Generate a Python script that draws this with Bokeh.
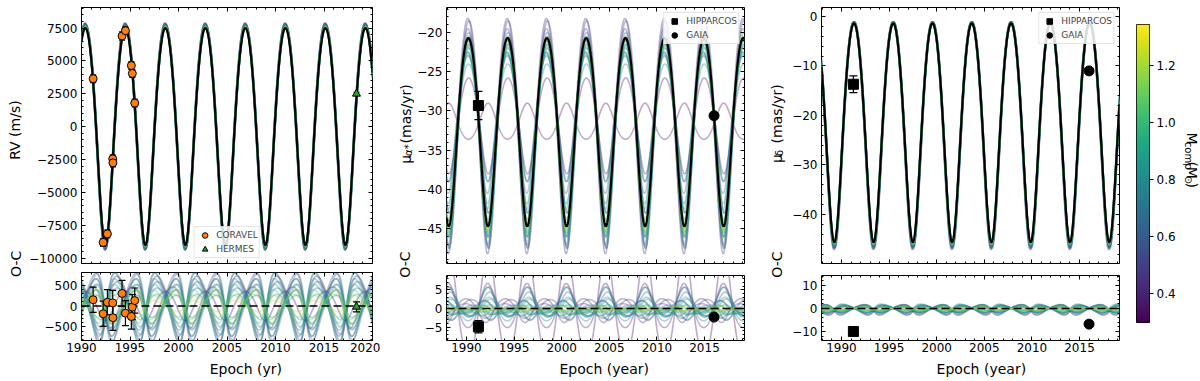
import numpy as np
from bokeh.plotting import figure
from bokeh.layouts import row, column
from bokeh.models import (Range1d, LinearAxis, SingleIntervalTicker, FixedTicker,
                          CustomJSTickFormatter, Label, Legend, LegendItem,
                          LinearColorMapper, ColumnDataSource)
from bokeh.palettes import Viridis256
from bokeh.embed import file_html
from bokeh.resources import INLINE

FONT = "DejaVu Sans"

# ---------------- orbit parameters ----------------
period_yr = 4.125
eccentricity = 0.1
apoastron_epoch = 1994.52

rv_center, rv_semi_amp = -750.0, 8250.0
pma_center, pma_semi_amp, pma_epoch_shift = -32.7, 12.0, -0.2
pmd_center, pmd_semi_amp, pmd_epoch_shift = -23.5, 22.1, 0.915

# ---------------- sampled companion models ----------------
sample_mass = [0.33, 0.36, 0.42, 0.47, 0.52, 0.56, 0.60, 0.63, 0.66, 0.69, 0.72, 0.75,
               0.78, 0.81, 0.84, 0.87, 0.90, 0.94, 0.98, 1.03, 1.08, 1.13, 1.18, 1.23]
sample_dt = [0.00, 0.03, -0.05, 0.06, -0.04, 0.05, -0.06, 0.04, -0.03, 0.06, -0.05, 0.02,
             0.05, -0.04, 0.03, -0.06, 0.04, -0.02, 0.03, -0.03, 0.02, -0.02, 0.03, -0.01]
sample_rv_amp = [8600, 8550, 8650, 8500, 8600, 8450, 8550, 8400, 8500, 8350, 8450, 8300,
                 8450, 8400, 8350, 8500, 8300, 8400, 8350, 8300, 8400, 8280, 8350, 8270]
sample_pma_amp = [-2.3, 6.1, 15.0, 14.5, 13.8, 11.0, 9.0, 13.0, 8.0, 10.5, 12.5, 7.5,
                  11.5, 9.5, 13.5, 10.0, 12.0, 11.0, 12.8, 12.2, 11.5, 12.4, 11.8, 12.3]
sample_pma_center = [-31.3, -31.9, -33.2, -33.0, -33.3, -32.0, -31.5, -33.0, -31.0, -32.5, -33.5, -31.5,
                     -33.0, -32.3, -34.0, -32.5, -33.5, -32.8, -33.4, -33.0, -32.5, -33.0, -32.6, -32.9]
sample_pmd_amp = [22.8, 22.6, 23.0, 22.9, 22.7, 22.5, 22.9, 22.4, 22.6, 22.8, 22.3, 22.7,
                  22.5, 22.4, 22.6, 22.3, 22.5, 22.2, 22.4, 22.3, 22.2, 22.4, 22.3, 22.2]
sample_pmd_center = [-23.9, -23.8, -24.1, -24.0, -23.9, -23.7, -24.0, -23.7, -23.8, -23.9, -23.6, -23.8,
                     -23.7, -23.7, -23.8, -23.6, -23.7, -23.6, -23.7, -23.6, -23.6, -23.7, -23.6, -23.6]

# ---------------- observations ----------------
coravel_epoch = [1991.20, 1992.23, 1992.67, 1993.22, 1993.24, 1994.18, 1994.53, 1995.14, 1995.24, 1995.49]
coravel_rv = [3650, -8800, -8150, -2450, -2750, 6900, 7300, 4650, 4050, 1800]
coravel_err = [300, 300, 300, 300, 300, 310, 300, 300, 300, 300]
coravel_oc = [150, -185, 90, 75, -280, 300, -170, -250, -25, 130]

hermes_epoch = [2018.35]
hermes_rv = [2500]
hermes_err = [120]
hermes_oc = [-20]

hip_epoch = [1991.25]
gaia_epoch = [2016.0]
pma_hip, pma_hip_err, pma_hip_oc, pma_hip_oc_err = [-29.3], [1.8], [-4.9], [1.65]
pma_gaia, pma_gaia_err, pma_gaia_oc, pma_gaia_oc_err = [-30.6], [0.3], [-2.3], [0.3]
pmd_hip, pmd_hip_err, pmd_hip_oc, pmd_hip_oc_err = [-13.7], [1.7], [-10.0], [0.9]
pmd_gaia, pmd_gaia_err, pmd_gaia_oc, pmd_gaia_oc_err = [-11.0], [0.2], [-6.8], [0.2]

cbar_low, cbar_high = 0.30, 1.344
cbar_ticks = [0.4, 0.6, 0.8, 1.0, 1.2]

PAGE_H = 381


def mass_color(m):
    i = int(round((m - cbar_low) / (cbar_high - cbar_low) * 255))
    return Viridis256[max(0, min(255, i))]


def true_anomaly(t):
    t = np.asarray(t, float)
    M = 2 * np.pi * (t - (apoastron_epoch - period_yr / 2)) / period_yr
    E = M.copy()
    for _ in range(12):
        E = E - (E - eccentricity * np.sin(E) - M) / (1 - eccentricity * np.cos(E))
    return 2 * np.arctan2(np.sqrt(1 + eccentricity) * np.sin(E / 2),
                          np.sqrt(1 - eccentricity) * np.cos(E / 2))


def orbit(t, center, amp, shift=0.0):
    return center - amp * np.cos(true_anomaly(np.asarray(t) - shift))


minus_fmt = CustomJSTickFormatter(code="""
if (Math.abs(tick) < 1e-9) { return '0'; }
const s = String(Math.round(Math.abs(tick) * 1000) / 1000);
return tick < 0 ? '\u2212' + s : s;
""")
blank_fmt = CustomJSTickFormatter(code="return '';")


def base_fig(w, h, xr, yr, bl, br, bt, bb):
    p = figure(width=w, height=h, x_range=Range1d(*xr), y_range=Range1d(*yr),
               x_axis_type=None, y_axis_type=None, output_backend="svg",
               toolbar_location=None, min_border_left=bl, min_border_right=br,
               min_border_top=bt, min_border_bottom=bb)
    p.outline_line_color = "black"
    p.outline_line_width = 1
    p.outline_line_alpha = 1.0
    p.background_fill_color = "white"
    p.border_fill_color = "white"
    return p


def strip(w, h):
    s = figure(width=w, height=h, x_range=Range1d(0, w), y_range=Range1d(0, h),
               x_axis_type=None, y_axis_type=None, output_backend="svg",
               toolbar_location=None, min_border=0)
    s.outline_line_color = None
    s.background_fill_color = "white"
    s.border_fill_color = "white"
    return s


def add_axes(p, xint, yint, xlabels=True):
    for loc in ("below", "above", "left", "right"):
        horiz = loc in ("below", "above")
        ax = LinearAxis(ticker=SingleIntervalTicker(interval=xint if horiz else yint, num_minor_ticks=5))
        ax.axis_line_color = None
        ax.major_tick_in = 4
        ax.major_tick_out = 0
        ax.minor_tick_in = 2
        ax.minor_tick_out = 0
        ax.major_tick_line_color = "black"
        ax.minor_tick_line_color = "black"
        show = (loc == "below" and xlabels) or loc == "left"
        if show:
            ax.formatter = minus_fmt
            ax.major_label_text_font = FONT
            ax.major_label_text_font_size = "12px"
            ax.major_label_text_color = "black"
            ax.major_label_standoff = 2 if horiz else 4
        else:
            ax.formatter = blank_fmt
            ax.major_label_text_font_size = "1px"
            ax.major_label_standoff = 0
        p.add_layout(ax, loc)


def add_text(p, x, y, text, size=14, angle=0.0, align="center", baseline="middle"):
    p.add_layout(Label(x=x, y=y, text=text, angle=angle,
                       text_align=align, text_baseline=baseline, text_font=FONT,
                       text_font_size=f"{size}px", text_color="black"))


def errorbars(p, x, y, err, cap=7):
    src = ColumnDataSource(dict(x=x, lo=[a - b for a, b in zip(y, err)], hi=[a + b for a, b in zip(y, err)]))
    p.segment(x0="x", y0="lo", x1="x", y1="hi", source=src, line_color="black", line_width=1.2)
    p.scatter("x", "lo", source=src, marker="dash", size=cap, line_color="black", line_width=1.2)
    p.scatter("x", "hi", source=src, marker="dash", size=cap, line_color="black", line_width=1.2)


def legend(p, items, loc):
    lg = Legend(items=[LegendItem(label=l, renderers=[r]) for l, r in items], location=loc,
                orientation="vertical", margin=5, padding=1, spacing=0,
                label_text_font=FONT, label_text_font_size="9px", label_height=11,
                glyph_height=14, glyph_width=18, label_standoff=3,
                border_line_color="#cccccc", border_line_width=1,
                background_fill_color="white", background_fill_alpha=0.85)
    p.add_layout(lg)


x1 = (1990.0, 2020.0)
x23 = (1987.9, 2019.2)
t1 = np.linspace(x1[0], x1[1], 1600)
t23 = np.linspace(x23[0], x23[1], 1600)
SAMPLE_ALPHA = 0.35
SAMPLE_W = 1.6

# ---------------- panel 1: RV ----------------
yr1 = (-10403, 9065)
oc1 = (-823, 800)
p1 = base_fig(354, 268, x1, yr1, 54, 8, 7, 5)
q1 = base_fig(354, 88, x1, oc1, 54, 8, 4, 16)
rv_best = orbit(t1, rv_center, rv_semi_amp)
for i, m in enumerate(sample_mass):
    ys = orbit(t1 - sample_dt[i], rv_center, sample_rv_amp[i])
    c = mass_color(m)
    p1.line(t1, ys, line_color=c, line_alpha=SAMPLE_ALPHA, line_width=SAMPLE_W)
    q1.line(t1, ys - rv_best, line_color=c, line_alpha=SAMPLE_ALPHA, line_width=SAMPLE_W)
p1.line(t1, rv_best, line_color="black", line_width=2.2)
q1.line([x1[0], x1[1]], [0, 0], line_color="black", line_width=1.6, line_dash="8 4")

errorbars(p1, coravel_epoch, coravel_rv, coravel_err, cap=6)
r_cor = p1.scatter(coravel_epoch, coravel_rv, marker="circle", size=8, fill_color="#ff7f0e",
                   line_color="black", line_width=1)
errorbars(p1, hermes_epoch, hermes_rv, hermes_err, cap=6)
r_her = p1.scatter(hermes_epoch, hermes_rv, marker="triangle", size=8, fill_color="#2ca02c",
                   line_color="black", line_width=1)
errorbars(q1, coravel_epoch, coravel_oc, coravel_err, cap=7)
q1.scatter(coravel_epoch, coravel_oc, marker="circle", size=8, fill_color="#ff7f0e", line_color="black", line_width=1)
errorbars(q1, hermes_epoch, hermes_oc, hermes_err, cap=7)
q1.scatter(hermes_epoch, hermes_oc, marker="triangle", size=8, fill_color="#2ca02c", line_color="black", line_width=1)
legend(p1, [("CORAVEL", r_cor), ("HERMES", r_her)], "bottom_center")

add_axes(p1, 5, 2500, xlabels=False)
add_axes(q1, 5, 500, xlabels=True)

ys1 = strip(26, PAGE_H)
add_text(ys1, 14, PAGE_H - 135, "RV (m/s)", angle=np.pi / 2)
add_text(ys1, 15, PAGE_H - 306, "O-C", angle=np.pi / 2)
xs1 = strip(354, 25)
add_text(xs1, 200, 13, "Epoch (yr)", baseline="alphabetic")

# ---------------- panel 2: mu_alpha ----------------
yr2 = (-49.45, -16.8)
oc2 = (-8.58, 8.85)
p2 = base_fig(340, 268, x23, yr2, 31, 10, 7, 5)
q2 = base_fig(340, 88, x23, oc2, 31, 10, 7, 16)
pma_best = orbit(t23, pma_center, pma_semi_amp, pma_epoch_shift)
for i, m in enumerate(sample_mass):
    ys = orbit(t23 - sample_dt[i], sample_pma_center[i], sample_pma_amp[i], pma_epoch_shift)
    c = mass_color(m)
    p2.line(t23, ys, line_color=c, line_alpha=SAMPLE_ALPHA, line_width=SAMPLE_W)
    q2.line(t23, ys - pma_best, line_color=c, line_alpha=SAMPLE_ALPHA, line_width=SAMPLE_W)
p2.line(t23, pma_best, line_color="black", line_width=2.2)
q2.line([x23[0], x23[1]], [0, 0], line_color="black", line_width=1.6, line_dash="8 4")

errorbars(p2, hip_epoch, pma_hip, pma_hip_err, cap=8)
errorbars(p2, gaia_epoch, pma_gaia, pma_gaia_err, cap=8)
r_hip2 = p2.scatter(hip_epoch, pma_hip, marker="square", size=10, fill_color="black", line_color="black")
r_gaia2 = p2.scatter(gaia_epoch, pma_gaia, marker="circle", size=10, fill_color="black", line_color="black")
errorbars(q2, hip_epoch, pma_hip_oc, pma_hip_oc_err, cap=8)
errorbars(q2, gaia_epoch, pma_gaia_oc, pma_gaia_oc_err, cap=8)
q2.scatter(hip_epoch, pma_hip_oc, marker="square", size=10, fill_color="black", line_color="black")
q2.scatter(gaia_epoch, pma_gaia_oc, marker="circle", size=10, fill_color="black", line_color="black")
legend(p2, [("HIPPARCOS", r_hip2), ("GAIA", r_gaia2)], "top_right")

add_axes(p2, 5, 5, xlabels=False)
add_axes(q2, 5, 5, xlabels=True)

ys2 = strip(34, PAGE_H)
add_text(ys2, 25, PAGE_H - 178, "μ", angle=np.pi / 2, align="left")
add_text(ys2, 28, PAGE_H - 168, "α*", size=10, angle=np.pi / 2, align="left")
add_text(ys2, 25, PAGE_H - 152, "(mas/yr)", angle=np.pi / 2, align="left")
add_text(ys2, 24, PAGE_H - 307, "O-C", angle=np.pi / 2)
xs2 = strip(340, 25)
add_text(xs2, 180, 13, "Epoch (year)", baseline="alphabetic")

# ---------------- panel 3: mu_delta ----------------
yr3 = (-49.9, 1.8)
oc3 = (-13.9, 14.3)
p3 = base_fig(343, 268, x23, yr3, 35, 10, 7, 5)
q3 = base_fig(343, 88, x23, oc3, 35, 10, 7, 16)
pmd_best = orbit(t23, pmd_center, pmd_semi_amp, pmd_epoch_shift)
for i, m in enumerate(sample_mass):
    ys = orbit(t23 - sample_dt[i], sample_pmd_center[i], sample_pmd_amp[i], pmd_epoch_shift)
    c = mass_color(m)
    p3.line(t23, ys, line_color=c, line_alpha=SAMPLE_ALPHA, line_width=SAMPLE_W)
    q3.line(t23, ys - pmd_best, line_color=c, line_alpha=SAMPLE_ALPHA, line_width=SAMPLE_W)
p3.line(t23, pmd_best, line_color="black", line_width=2.2)
q3.line([x23[0], x23[1]], [0, 0], line_color="black", line_width=1.6, line_dash="8 4")

errorbars(p3, hip_epoch, pmd_hip, pmd_hip_err, cap=8)
errorbars(p3, gaia_epoch, pmd_gaia, pmd_gaia_err, cap=8)
r_hip3 = p3.scatter(hip_epoch, pmd_hip, marker="square", size=10, fill_color="black", line_color="black")
r_gaia3 = p3.scatter(gaia_epoch, pmd_gaia, marker="circle", size=10, fill_color="black", line_color="black")
errorbars(q3, hip_epoch, pmd_hip_oc, pmd_hip_oc_err, cap=8)
errorbars(q3, gaia_epoch, pmd_gaia_oc, pmd_gaia_oc_err, cap=8)
q3.scatter(hip_epoch, pmd_hip_oc, marker="square", size=10, fill_color="black", line_color="black")
q3.scatter(gaia_epoch, pmd_gaia_oc, marker="circle", size=10, fill_color="black", line_color="black")
legend(p3, [("HIPPARCOS", r_hip3), ("GAIA", r_gaia3)], "top_right")

add_axes(p3, 5, 10, xlabels=False)
add_axes(q3, 5, 10, xlabels=True)

ys3 = strip(32, PAGE_H)
add_text(ys3, 22, PAGE_H - 177, "μ", angle=np.pi / 2, align="left")
add_text(ys3, 25, PAGE_H - 168, "δ", size=10, angle=np.pi / 2, align="left")
add_text(ys3, 22, PAGE_H - 152, "(mas/yr)", angle=np.pi / 2, align="left")
add_text(ys3, 22, PAGE_H - 307, "O-C", angle=np.pi / 2)
xs3 = strip(343, 25)
add_text(xs3, 184, 13, "Epoch (year)", baseline="alphabetic")

# ---------------- colour bar ----------------
cb = base_fig(49, PAGE_H, (0, 1), (cbar_low, cbar_high), 7, 27, 24, 59)
mapper = LinearColorMapper(palette=Viridis256, low=cbar_low, high=cbar_high)
cb.image(image=[np.linspace(cbar_low, cbar_high, 256).reshape(-1, 1)], x=0, y=cbar_low,
         dw=1, dh=cbar_high - cbar_low, color_mapper=mapper)
cax = LinearAxis(ticker=FixedTicker(ticks=cbar_ticks),
                 formatter=CustomJSTickFormatter(code="return tick.toFixed(1);"))
cax.axis_line_color = None
cax.major_tick_in = 0
cax.major_tick_out = 4
cax.minor_tick_line_color = None
cax.major_tick_line_color = "black"
cax.major_label_text_font = FONT
cax.major_label_text_font_size = "12px"
cax.major_label_text_color = "black"
cax.major_label_standoff = 3
cb.add_layout(cax, "right")

cbl = strip(22, PAGE_H)
add_text(cbl, 13, PAGE_H - 138, "M", angle=-np.pi / 2, align="left")
add_text(cbl, 10, PAGE_H - 150, "comp", size=10, angle=-np.pi / 2, align="left")
add_text(cbl, 13, PAGE_H - 175, "(M", angle=-np.pi / 2, align="left")
add_text(cbl, 10, PAGE_H - 193, "⊙", size=10, angle=-np.pi / 2, align="left")
add_text(cbl, 13, PAGE_H - 202, ")", angle=-np.pi / 2, align="left")

layout = row(ys1, column(p1, q1, xs1), ys2, column(p2, q2, xs2),
             ys3, column(p3, q3, xs3), cb, cbl)
open("out.html", "w").write(file_html(layout, INLINE))
